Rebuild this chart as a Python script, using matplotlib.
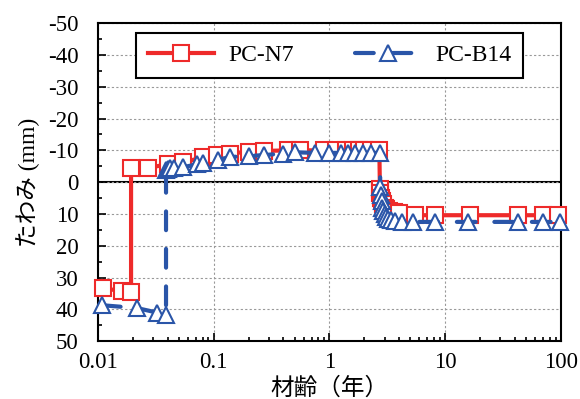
import matplotlib
matplotlib.use('Agg')
import matplotlib.pyplot as plt
from matplotlib.ticker import MultipleLocator, LogLocator

plt.rcParams['font.family'] = ['Liberation Serif', 'Noto Sans CJK JP']
plt.rcParams['font.size'] = 16
plt.rcParams['axes.unicode_minus'] = False

# PC-N7 (red squares)
n7_age = [0.011, 0.016, 0.0193, 0.0193, 0.027, 0.04, 0.054, 0.081, 0.107, 0.138,
          0.2, 0.27, 0.44, 0.56, 0.89, 1.15, 1.4, 1.6, 1.8, 2.0, 2.3, 2.7,
          2.73, 2.76, 2.8, 2.85, 2.9, 3.0, 3.1, 3.3, 3.6, 4.0,
          5.5, 8.2, 16.4, 43, 70, 95]
n7_defl = [33.3, 34.3, 34.6, -4.4, -4.5, -5.6, -6.2, -7.8, -8.5, -9.0,
           -9.6, -9.8, -10, -10, -10, -10, -10, -10, -10, -10, -10, -10,
           2, 3.5, 5, 6, 7, 8, 8.5, 9, 9.5, 9.8,
           10.4, 10.4, 10.4, 10.4, 10.4, 10.4]

# PC-B14 (blue triangles)
b14_age = [0.0108, 0.0217, 0.0323, 0.0387, 0.0387, 0.04, 0.042, 0.045, 0.054,
           0.072, 0.081, 0.108, 0.138, 0.2, 0.27, 0.4, 0.5, 0.75, 1.0, 1.25,
           1.45, 1.65, 1.95, 2.3, 2.73,
           2.75, 2.78, 2.82, 2.87, 2.93, 3.0, 3.1, 3.2, 3.4, 3.7, 4.2,
           5.3, 8.2, 15.8, 43, 70, 98]
b14_defl = [38.7, 39.6, 41, 41.8, -3.8, -4, -4.3, -4.5, -4.7,
            -5.6, -6, -7, -7.9, -8.2, -8.5, -9, -9.4, -9.2, -9.2, -9.2,
            -9.2, -9.2, -9.2, -9.2, -9.2,
            1.5, 4, 6, 8, 9, 10, 11, 11.5, 12, 12.2, 12.4,
            12.5, 12.5, 12.5, 12.5, 12.5, 12.5]

red = '#ee2a2a'
blue = '#2a55a8'

fig = plt.figure(figsize=(5.8, 3.99), dpi=100)
ax = fig.add_axes([0.169, 0.145, 0.798, 0.797])

ax.axhline(0, color='black', lw=1.5, zorder=1)

ax.plot(n7_age, n7_defl, color=red, lw=3, marker='s', ms=11, mfc='white',
        mec=red, mew=1.5, label='PC-N7', clip_on=False, zorder=3)
ax.plot(b14_age, b14_defl, color=blue, lw=3, ls=(0, (4.5, 4.5)), marker='^', ms=11,
        mfc='white', mec=blue, mew=1.5, label='PC-B14', clip_on=False, zorder=4,
        dash_capstyle='round')

ax.set_xscale('log')
ax.set_xlim(0.01, 100)
ax.set_ylim(50, -50)
ax.set_xticks([0.01, 0.1, 1, 10, 100])
ax.set_xticklabels(['0.01', '0.1', '1', '10', '100'])
ax.xaxis.set_minor_locator(LogLocator(base=10, subs=range(2, 10)))
ax.yaxis.set_major_locator(MultipleLocator(10))
ax.yaxis.set_minor_locator(MultipleLocator(5))
ax.tick_params(which='both', direction='in', width=1.2, labelsize=16.5)
ax.tick_params(which='major', length=6)
ax.tick_params(which='minor', length=3)
ax.tick_params(axis='y', pad=14)
ax.tick_params(axis='x', pad=8)
ax.grid(True, which='major', ls=(0, (2, 2)), color='#999999', lw=0.8)
for s in ax.spines.values():
    s.set_linewidth(1.5)

ax.set_xlabel('材齢（年）', fontsize=17, labelpad=3)
ax.set_ylabel('たわみ (mm)', fontsize=17, labelpad=6)

leg = ax.legend(loc='upper center', ncol=2, bbox_to_anchor=(0.5, 0.969),
                fancybox=False, edgecolor='black', framealpha=1, fontsize=17,
                handlelength=2.8, handletextpad=0.6, columnspacing=2.6,
                borderpad=0.5, borderaxespad=0)
leg.get_frame().set_linewidth(1.5)

fig.savefig('out.png', dpi=100)
